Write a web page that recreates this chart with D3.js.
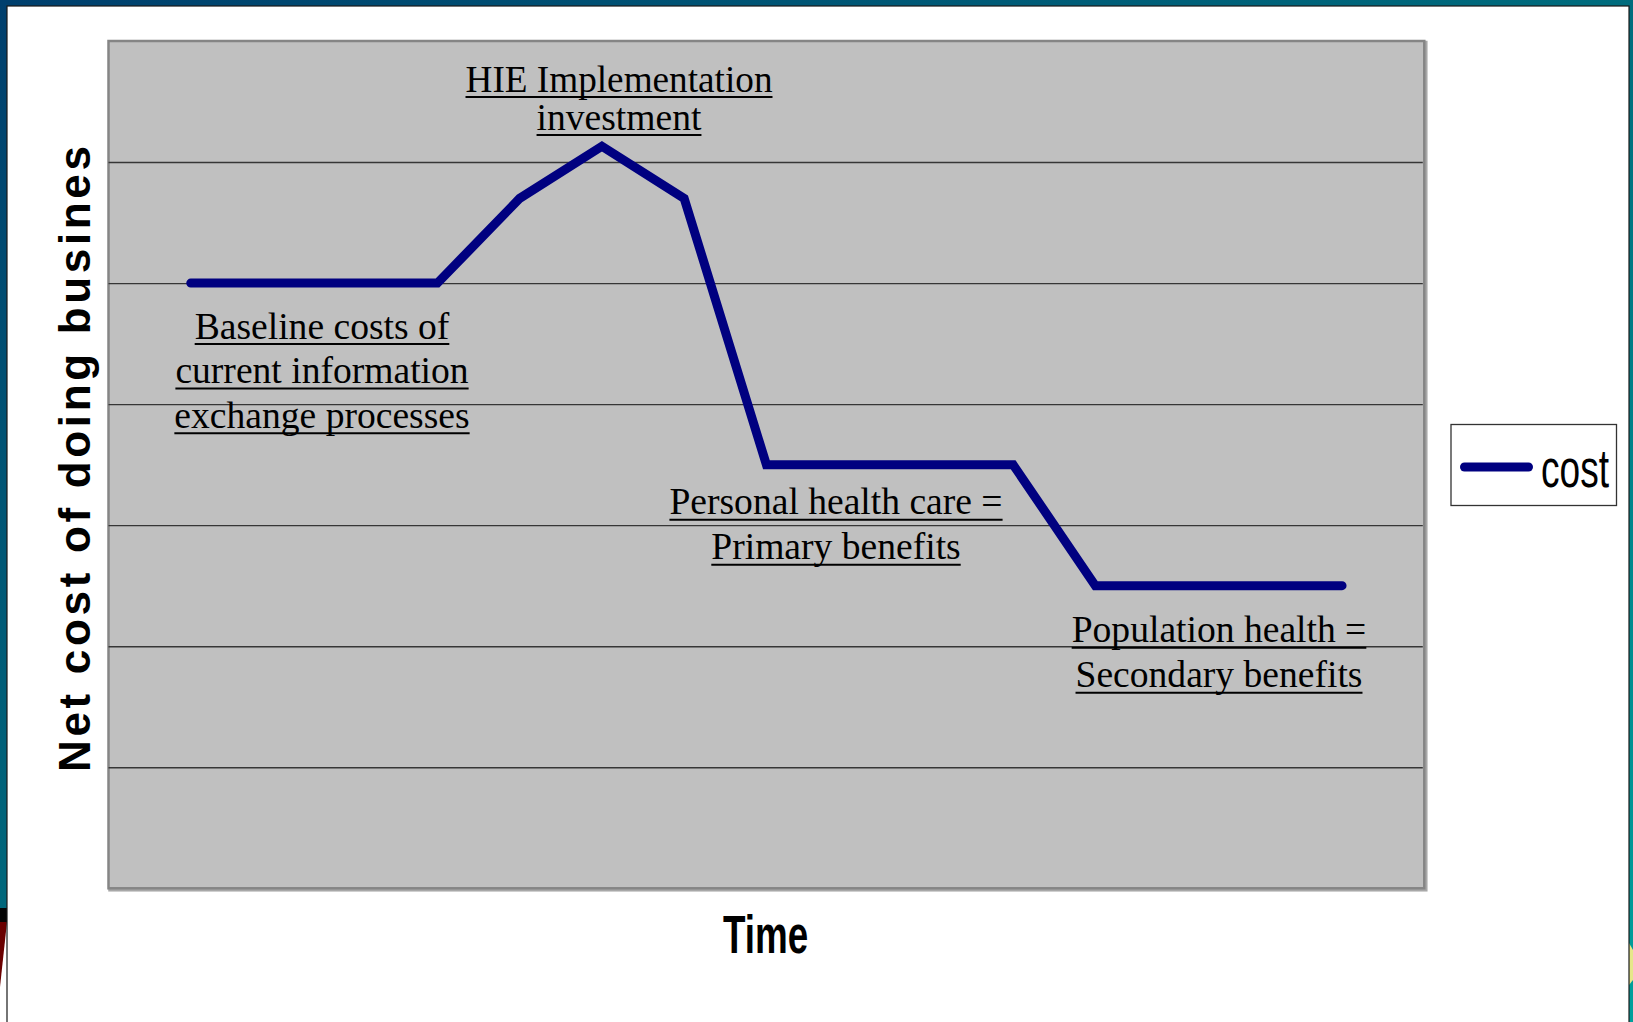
<!DOCTYPE html>
<html>
<head>
<meta charset="utf-8">
<script src="https://cdn.jsdelivr.net/npm/d3@7"></script>
<style>
  html, body { margin: 0; padding: 0; background: #ffffff; }
  svg { display: block; }
</style>
</head>
<body>
<svg id="chart" width="1633" height="1022"></svg>
<script>
// ---- data ----
const timeSteps = [0, 1, 2, 3, 4, 5, 6, 7, 8, 9, 10, 11, 12, 13, 14, 15, 16];
const costValues = [null, 5, 5, 5, 5, 5.7, 6.13, 5.7, 3.5, 3.5, 3.5, 3.5, 2.5, 2.5, 2.5, 2.5, null];
const gridValues = [1, 2, 3, 4, 5, 6];
const yDomain = [0, 7];
const seriesName = "cost";
const xTitle = "Time";
const yTitle = "Net cost of doing busines";
const annotationLines = [
  ["Baseline costs of", "current information", "exchange processes"],
  ["HIE Implementation", "investment"],
  ["Personal health care =", "Primary benefits"],
  ["Population health =", "Secondary benefits"]
];

// ---- layout ----
const W = 1633, H = 1022;
const plot = { left: 108.5, top: 41, right: 1424.3, bottom: 888.3 };
const annotationLayout = [
  { cx: 322, y0: 338.5, dy: 44.6 },
  { cx: 619, y0: 91.5, dy: 38 },
  { cx: 836, y0: 514.3, dy: 45 },
  { cx: 1219, y0: 642.2, dy: 45 }
];

const svg = d3.select("#chart");
const defs = svg.append("defs");
const grad = defs.append("linearGradient").attr("id", "bg")
  .attr("x1", 0).attr("y1", 0).attr("x2", 1).attr("y2", 1);
grad.append("stop").attr("offset", 0).attr("stop-color", "#003f6d");
grad.append("stop").attr("offset", 0.55).attr("stop-color", "#00717f");
grad.append("stop").attr("offset", 1).attr("stop-color", "#00a09c");

// slide frame
svg.append("rect").attr("x", 0).attr("y", 0).attr("width", W).attr("height", H).attr("fill", "url(#bg)");
svg.append("rect").attr("x", 0).attr("y", 908).attr("width", 7).attr("height", 14).attr("fill", "#050505");
svg.append("path").attr("d", "M0,922 L7,922 L7,1022 L0,1022 Z").attr("fill", "#ffffff");
svg.append("path").attr("d", "M0,922 L7,922 L0,987 Z").attr("fill", "#6a0000");
svg.append("path").attr("d", "M1629,943 L1633,950 L1633,980 L1629,985 Z").attr("fill", "#e6e68a");
svg.append("rect").attr("x", 7).attr("y", 6).attr("width", 1622).attr("height", 1030)
  .attr("fill", "#ffffff").attr("stroke", "#1a1a1a").attr("stroke-width", 1.2);

// scales
const x = d3.scalePoint().domain(timeSteps).range([plot.left, plot.right]).padding(0);
const y = d3.scaleLinear().domain(yDomain).range([plot.bottom, plot.top]);

// plot area
svg.append("rect")
  .attr("x", plot.left + 1).attr("y", plot.top + 1)
  .attr("width", plot.right - plot.left + 1).attr("height", plot.bottom - plot.top + 1)
  .attr("fill", "none").attr("stroke", "#a8a8a8").attr("stroke-width", 2.5);
svg.append("rect")
  .attr("x", plot.left).attr("y", plot.top)
  .attr("width", plot.right - plot.left).attr("height", plot.bottom - plot.top)
  .attr("fill", "#c0c0c0").attr("stroke", "#858585").attr("stroke-width", 2.5);

// gridlines via axis
const grid = svg.append("g")
  .attr("transform", `translate(${plot.left},0)`)
  .call(d3.axisRight(y).tickValues(gridValues).tickSize(plot.right - plot.left - 1.5).tickFormat(""));
grid.select(".domain").remove();
grid.selectAll(".tick line").attr("stroke", "#363636").attr("stroke-width", 1.4);

// annotations (drawn under the line)
const annG = svg.append("g");
annotationLines.forEach((lines, i) => {
  const L = annotationLayout[i];
  lines.forEach((t, j) => {
    const by = L.y0 + j * L.dy;
    const txt = annG.append("text")
      .attr("x", L.cx).attr("y", by)
      .attr("text-anchor", "middle")
      .attr("font-family", "'Liberation Serif', 'Times New Roman', serif")
      .attr("font-size", 37.6)
      .attr("fill", "#000")
      .text(t);
    if (i === 1 && j === 0) {
      txt.attr("textLength", 307).attr("lengthAdjust", "spacingAndGlyphs");
    }
    const w = (i === 1 && j === 0) ? 307 : txt.node().getComputedTextLength();
    annG.append("line")
      .attr("x1", L.cx - w / 2).attr("x2", L.cx + w / 2)
      .attr("y1", by + 5.5).attr("y2", by + 5.5)
      .attr("stroke", "#000").attr("stroke-width", 2);
  });
});

// cost line
const line = d3.line()
  .defined(d => d.v !== null)
  .x(d => x(d.t))
  .y(d => y(d.v));
const pts = timeSteps.map((t, i) => ({ t, v: costValues[i] }));
svg.append("path")
  .datum(pts)
  .attr("d", line)
  .attr("fill", "none")
  .attr("stroke", "#000080")
  .attr("stroke-width", 9)
  .attr("stroke-linejoin", "miter")
  .attr("stroke-linecap", "round");

// axis titles
svg.append("text")
  .attr("transform", "translate(723,953) scale(0.695,1)")
  .attr("font-family", "'Liberation Sans', Arial, sans-serif")
  .attr("font-weight", "bold")
  .attr("font-size", 53)
  .attr("fill", "#000")
  .text(xTitle);

svg.append("text")
  .attr("transform", "translate(90,459) rotate(-90)")
  .attr("text-anchor", "middle")
  .attr("font-family", "'Liberation Sans', Arial, sans-serif")
  .attr("font-weight", "bold")
  .attr("font-size", 44)
  .attr("textLength", 626).attr("lengthAdjust", "spacing")
  .attr("fill", "#000")
  .text(yTitle);

// legend
const lg = svg.append("g");
lg.append("rect").attr("x", 1451).attr("y", 424.5).attr("width", 165.5).attr("height", 81)
  .attr("fill", "#ffffff").attr("stroke", "#333").attr("stroke-width", 1.3);
lg.append("line").attr("x1", 1464.5).attr("x2", 1528.5).attr("y1", 467).attr("y2", 467)
  .attr("stroke", "#000080").attr("stroke-width", 9).attr("stroke-linecap", "round");
lg.append("text")
  .attr("transform", "translate(1541,486.5) scale(0.7,1)")
  .attr("font-family", "'Liberation Sans', Arial, sans-serif")
  .attr("font-size", 53)
  .attr("fill", "#000")
  .text(seriesName);
</script>
</body>
</html>
